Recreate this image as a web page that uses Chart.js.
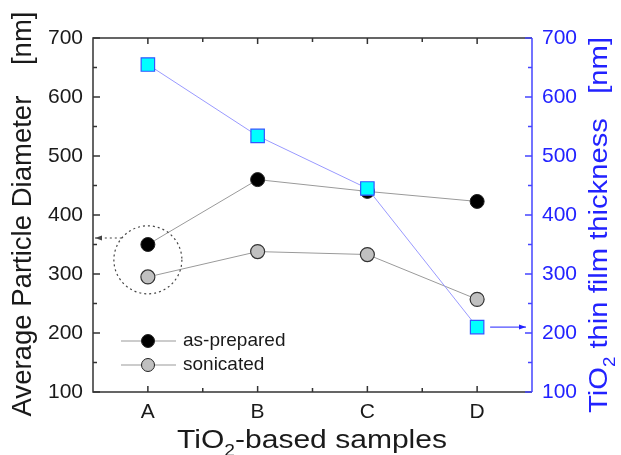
<!DOCTYPE html>
<html>
<head>
<meta charset="utf-8">
<script src="https://cdn.jsdelivr.net/npm/chart.js@4/dist/chart.umd.min.js"></script>
<style>
  html, body { margin:0; padding:0; background:#fff; }
  #wrap { width:621px; height:455px; position:relative; }
</style>
</head>
<body>
<div id="wrap"><canvas id="c"></canvas></div>
<script>
// ── Data ─────────────────────────────────────────────────────
const samples    = ['A','B','C','D'];
const asPrepared = [350, 460, 440, 423];
const sonicated  = [295, 338, 333, 257];
const thickness  = [655, 534, 445, 210];
const seriesNames = ['as-prepared','sonicated'];
const yMin = 100, yMax = 700, yStep = 100;

const FONT  = "'Liberation Sans', Arial, sans-serif";
const BLUE  = '#2222ff';
const DARK  = '#1a1a1a';

// text with subscript parts: [[text, isSub], ...], stretched to fit `len` px
function richWidth(ctx, parts, size) {
  let w = 0;
  parts.forEach(([t,sub]) => {
    ctx.font = `${sub ? Math.round(size*0.62) : size}px ${FONT}`;
    w += ctx.measureText(t).width;
  });
  return w;
}
function drawRich(ctx, parts, size, len) {
  const w = richWidth(ctx, parts, size);
  ctx.scale(len ? len/w : 1, 1);
  let x = -w/2;
  ctx.textAlign = 'left'; ctx.textBaseline = 'alphabetic';
  parts.forEach(([t,sub]) => {
    ctx.font = `${sub ? Math.round(size*0.62) : size}px ${FONT}`;
    ctx.fillText(t, x, sub ? size*0.3 : 0);
    x += ctx.measureText(t).width;
  });
}

function arrow(ctx, x1, y, x2, dir) {
  ctx.beginPath(); ctx.moveTo(x1, y); ctx.lineTo(x2, y); ctx.stroke();
  ctx.setLineDash([]);
  ctx.beginPath();
  ctx.moveTo(x2, y); ctx.lineTo(x2 - dir*7, y-2.5); ctx.lineTo(x2 - dir*7, y+2.5); ctx.closePath();
  ctx.fill();
}

// ── Frame, ticks, titles, legend, annotations ───────────────
const framePlugin = {
  id: 'frame',
  afterDatasetsDraw(chart) {
    const ctx = chart.ctx, a = chart.chartArea;
    const xs = chart.scales.x, yl = chart.scales.y, yr = chart.scales.y2;
    ctx.save();
    ctx.lineWidth = 1.5;
    // black frame (left, top, bottom)
    ctx.strokeStyle = '#333';
    ctx.beginPath();
    ctx.moveTo(a.right, a.top); ctx.lineTo(a.left, a.top);
    ctx.lineTo(a.left, a.bottom); ctx.lineTo(a.right, a.bottom);
    ctx.stroke();
    // x ticks (bottom & top), major at samples, minor between
    for (let i = 0; i < samples.length * 2 - 1; i++) {
      const px = (xs.getPixelForValue(Math.floor(i/2)) + xs.getPixelForValue(Math.ceil(i/2)))/2;
      const len = i % 2 === 0 ? 6 : 4;
      ctx.beginPath();
      ctx.moveTo(px, a.bottom); ctx.lineTo(px, a.bottom - len);
      ctx.moveTo(px, a.top);    ctx.lineTo(px, a.top + len);
      ctx.stroke();
    }
    // left y ticks
    for (let v = yMin; v <= yMax; v += yStep/2) {
      const py = yl.getPixelForValue(v);
      const len = v % yStep === 0 ? 7 : 4;
      ctx.beginPath(); ctx.moveTo(a.left, py); ctx.lineTo(a.left + len, py); ctx.stroke();
    }
    // right blue axis
    ctx.strokeStyle = '#4444ff';
    ctx.beginPath(); ctx.moveTo(a.right, a.top); ctx.lineTo(a.right, a.bottom); ctx.stroke();
    for (let v = yMin; v <= yMax; v += yStep/2) {
      const py = yr.getPixelForValue(v);
      const len = v % yStep === 0 ? 7 : 4;
      ctx.beginPath(); ctx.moveTo(a.right, py); ctx.lineTo(a.right - len, py); ctx.stroke();
    }

    // dotted circle around sample A + arrow to left axis
    const cx = xs.getPixelForValue(0), cy = yl.getPixelForValue(324), r = 34;
    ctx.strokeStyle = '#444'; ctx.fillStyle = '#444'; ctx.lineWidth = 1.2;
    ctx.setLineDash([2,3]);
    ctx.beginPath(); ctx.arc(cx, cy, r, 0, Math.PI*2); ctx.stroke();
    const ay = yl.getPixelForValue(361);
    const ax = cx - Math.sqrt(r*r - (ay-cy)*(ay-cy));
    arrow(ctx, ax, ay, a.left + 2, -1);

    // arrow from D thickness point to right axis
    ctx.setLineDash([]);
    ctx.strokeStyle = BLUE; ctx.fillStyle = BLUE; ctx.lineWidth = 1;
    const by = yr.getPixelForValue(thickness[3]);
    arrow(ctx, xs.getPixelForValue(3) + 13, by, a.right - 6, 1);

    // legend
    const legStyles = [chart.data.datasets[1], chart.data.datasets[2]];
    legStyles.forEach((ds, k) => {
      const ly = 341 + k*24;
      ctx.strokeStyle = '#999'; ctx.lineWidth = 1;
      ctx.beginPath(); ctx.moveTo(121, ly); ctx.lineTo(176, ly); ctx.stroke();
      ctx.beginPath(); ctx.arc(148, ly, 6.5, 0, Math.PI*2);
      ctx.fillStyle = ds.pointBackgroundColor; ctx.fill();
      ctx.strokeStyle = '#222'; ctx.stroke();
      ctx.fillStyle = DARK; ctx.font = `19px ${FONT}`;
      ctx.textAlign = 'left'; ctx.textBaseline = 'middle';
      ctx.fillText(seriesNames[k], 183, ly);
    });

    // axis titles
    ctx.fillStyle = DARK;
    ctx.save(); ctx.translate(312, 448);
    drawRich(ctx, [['TiO',false],['2',true],['-based samples',false]], 25, 270);
    ctx.restore();

    ctx.save(); ctx.translate(31, 214); ctx.rotate(-Math.PI/2);
    drawRich(ctx, [['Average Particle Diameter    [nm]',false]], 27, 405);
    ctx.restore();

    ctx.fillStyle = BLUE;
    ctx.save(); ctx.translate(607, 225); ctx.rotate(-Math.PI/2);
    drawRich(ctx, [['TiO',false],['2',true],[' thin film thickness   [nm]',false]], 25, 376);
    ctx.restore();

    ctx.restore();
  }
};

const yTickOpts = (color) => ({
  min: yMin, max: yMax,
  ticks: { stepSize: yStep, color, padding: 10, font: { family: FONT, size: 21 } },
  grid: { display: false, drawTicks: false },
  border: { display: false },
});

new Chart(document.getElementById('c'), {
  type: 'line',
  data: {
    labels: samples,
    datasets: [
      { label: 'thickness', data: thickness, yAxisID: 'y2',
        borderColor: '#9999ff', borderWidth: 1,
        pointStyle: 'rect', pointRadius: 9.5, pointBackgroundColor: '#00ffff',
        pointBorderColor: '#3355ff', pointBorderWidth: 1.2 },
      { label: seriesNames[0], data: asPrepared, yAxisID: 'y',
        borderColor: '#9a9a9a', borderWidth: 1,
        pointRadius: 7, pointBackgroundColor: '#000', pointBorderColor: '#222', pointBorderWidth: 1 },
      { label: seriesNames[1], data: sonicated, yAxisID: 'y',
        borderColor: '#9a9a9a', borderWidth: 1,
        pointRadius: 7, pointBackgroundColor: '#c0c0c0', pointBorderColor: '#333', pointBorderWidth: 1.2 },
    ]
  },
  options: {
    responsive: true, maintainAspectRatio: false, animation: false,
    layout: { padding: { top: 38, left: 0, right: 0, bottom: 0 } },
    plugins: { legend: { display: false }, tooltip: { enabled: false } },
    scales: {
      x: {
        type: 'category', offset: true,
        ticks: { color: DARK, padding: 8, font: { family: FONT, size: 21 } },
        grid: { display: false, drawTicks: false },
        border: { display: false },
        afterFit(s) { s.height = 63; }
      },
      y:  { position: 'left',  ...yTickOpts(DARK), afterFit(s) { s.width = 93; } },
      y2: { position: 'right', ...yTickOpts(BLUE), afterFit(s) { s.width = 89; } },
    }
  },
  plugins: [framePlugin]
});
</script>
</body>
</html>
